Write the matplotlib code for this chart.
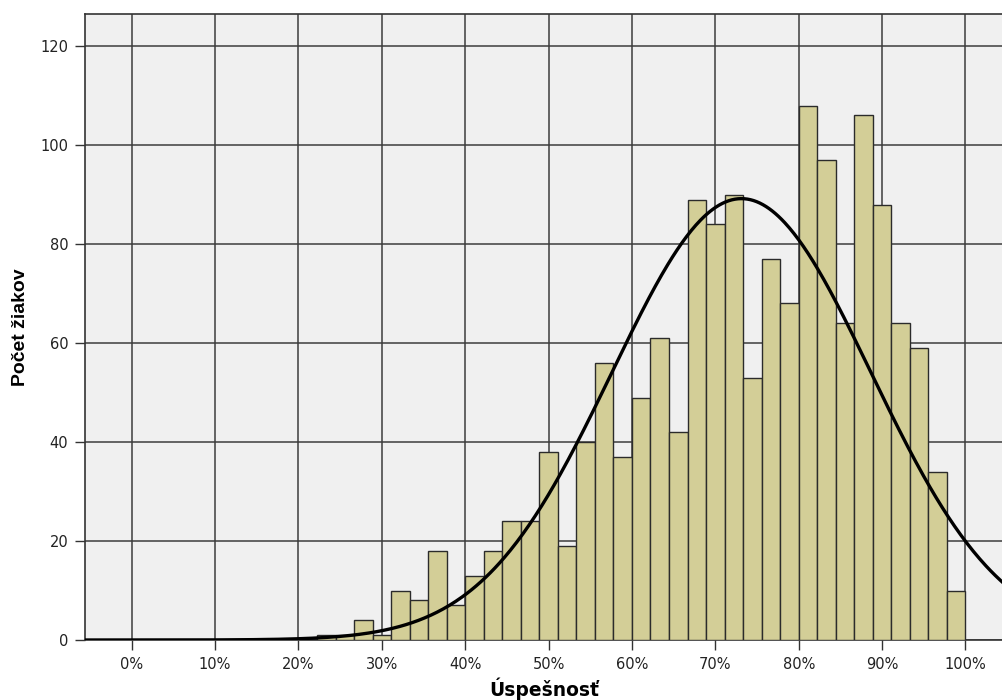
import numpy as np
import matplotlib
matplotlib.use("Agg")
import matplotlib.pyplot as plt

# Histogram bins: width 100/45 %, first bin edge index 10 (22.2 %)
bin_width = 100 / 45
first_bin = 10
counts = [1, 1, 4, 1, 10, 8, 18, 7, 13, 18, 24, 24, 38, 19, 40, 56, 37, 49,
          61, 42, 89, 84, 90, 53, 77, 68, 108, 97, 64, 106, 88, 64, 59, 34, 10]

x_ticks = [0, 10, 20, 30, 40, 50, 60, 70, 80, 90, 100]
x_ticklabels = [f"{t}%" for t in x_ticks]
y_ticks = [0, 20, 40, 60, 80, 100, 120]

counts = np.array(counts)
lefts = (first_bin + np.arange(len(counts))) * bin_width
centers = lefts + bin_width / 2

# normal curve from the binned data
n = counts.sum()
mean = np.sum(centers * counts) / n
sd = np.sqrt(np.sum(counts * (centers - mean) ** 2) / (n - 1))

fig = plt.figure(figsize=(10.03, 7.0), dpi=100)
ax = fig.add_axes([85 / 1003, 60 / 700, 918 / 1003, 626 / 700])
ax.set_facecolor('#F0F0F0')

ax.bar(lefts, counts, width=bin_width, align='edge', color='#D3CE97',
       edgecolor='#2b2b2b', linewidth=1.0, zorder=3)

xs = np.linspace(-6, 106, 600)
ys = n * bin_width / (sd * np.sqrt(2 * np.pi)) * np.exp(-0.5 * ((xs - mean) / sd) ** 2)
ax.plot(xs, ys, color='black', linewidth=2.4, zorder=4)

ax.set_xlim(-5.6, 104.5)
ax.set_ylim(0, 126.5)
ax.set_xticks(x_ticks)
ax.set_xticklabels(x_ticklabels)
ax.set_yticks(y_ticks)
ax.grid(True, color='#3c3c3c', linewidth=1.1, zorder=1)
ax.set_axisbelow(True)

ax.tick_params(axis='both', direction='out', length=7, width=1, color='#333333',
               labelsize=10.5, labelcolor='#222222', pad=5)
for side in ['left', 'top', 'bottom']:
    ax.spines[side].set_color('#333333')
    ax.spines[side].set_linewidth(1.2)
ax.spines['right'].set_visible(False)

ax.set_xlabel("Úspešnosť", fontsize=13.5, fontweight='bold', labelpad=4)
ax.set_ylabel("Počet žiakov", fontsize=14, fontweight='bold',
              fontname='Liberation Sans', labelpad=8)

plt.savefig("out.png", dpi=100)
